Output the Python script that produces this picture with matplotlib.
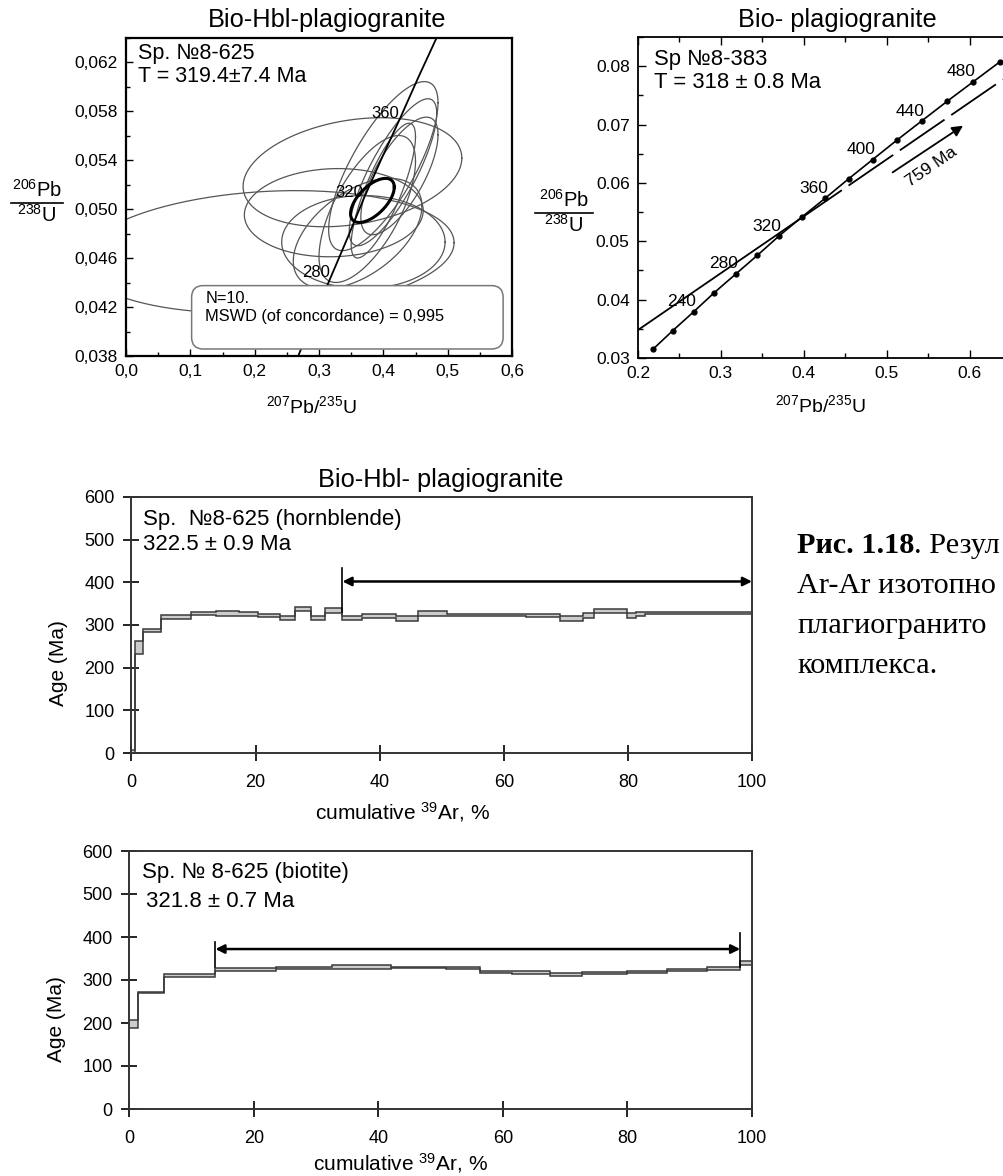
import numpy as np
import matplotlib
matplotlib.use("Agg")
import matplotlib.pyplot as plt
from matplotlib.patches import FancyBboxPatch
from matplotlib.lines import Line2D
from matplotlib.ticker import MultipleLocator, FixedLocator, FixedFormatter

plt.rcParams['font.family'] = ['Liberation Sans', 'DejaVu Sans']
plt.rcParams['mathtext.fontset'] = 'custom'
plt.rcParams['mathtext.rm'] = 'Liberation Sans'
plt.rcParams['mathtext.it'] = 'Liberation Sans:italic'
plt.rcParams['mathtext.bf'] = 'Liberation Sans:bold'

#==============================================================================
# U-Pb, Sp. N8-625: error ellipses (centre x, centre y, half-width x,
# half-width y, error correlation)
ell_cx = [0.400, 0.415, 0.425, 0.352, 0.323, 0.369, 0.220, 0.400, 0.375, 0.360]
ell_cy = [0.0535, 0.0530, 0.0527, 0.0530, 0.0497, 0.0473, 0.0465, 0.0515, 0.0500, 0.0480]
ell_sx = [0.085, 0.068, 0.060, 0.170, 0.139, 0.127, 0.290, 0.050, 0.075, 0.100]
ell_sy = [0.0069, 0.0060, 0.0048, 0.00445, 0.0036, 0.0038, 0.0050, 0.0055, 0.0060, 0.0045]
ell_rho = [0.75, 0.80, 0.70, 0.26, 0.05, 0.00, 0.15, 0.80, 0.65, 0.50]
# concordia age ellipse
age_ell = [0.383, 0.0507, 0.034, 0.0018, 0.60]

# concordia points (Ma, 207/235, 206/238)
conc_age = [200, 220, 240, 260, 280, 300, 320, 340, 360, 380, 400, 420, 440, 460, 480, 500]
conc_x = [0.218, 0.242, 0.267, 0.292, 0.318, 0.344, 0.370, 0.398, 0.426, 0.454,
          0.483, 0.512, 0.542, 0.573, 0.604, 0.636]
conc_y = [0.0315, 0.0347, 0.0379, 0.0412, 0.0444, 0.0476, 0.0509, 0.0542, 0.0574,
          0.0607, 0.0640, 0.0673, 0.0706, 0.0740, 0.0773, 0.0807]
left_labels = [280, 320, 360]
right_labels = [240, 280, 320, 360, 400, 440, 480]

# discordia, Sp. N8-383 (solid up to the middle point, dashed after it)
disc_x = [0.200, 0.392, 0.640]
disc_y = [0.0348, 0.0535, 0.0777]
arrow_x = [0.507, 0.592]
arrow_y = [0.0618, 0.0698]

xt_left = [0.0, 0.1, 0.2, 0.3, 0.4, 0.5, 0.6]
xt_left_lab = ['0,0', '0,1', '0,2', '0,3', '0,4', '0,5', '0,6']
yt_left = [0.038, 0.042, 0.046, 0.050, 0.054, 0.058, 0.062]
yt_left_lab = ['0,038', '0,042', '0,046', '0,050', '0,054', '0,058', '0,062']

# Ar-Ar, hornblende: step edges (cumulative 39Ar, %), age band low / high
hbl_x = [0, 0.5, 1.9, 4.8, 9.6, 13.6, 17.3, 20.4, 23.9, 26.3, 28.9, 31.2, 34.0, 37.2,
         40.0, 42.7, 46.1, 50.8, 57.4, 63.5, 69.0, 72.7, 74.6, 79.8, 81.3, 82.7, 91.3, 100]
hbl_lo = [0, 232, 283, 315, 323, 322, 322, 318, 312, 332, 312, 328, 312, 316,
          316, 309, 322, 320, 320, 319, 309, 317, 329, 317, 321, 325, 325]
hbl_hi = [8, 262, 291, 323, 330, 332, 330, 326, 322, 343, 322, 340, 322, 326,
          326, 322, 332, 326, 325, 325, 321, 329, 338, 329, 331, 331, 331]
hbl_plateau = [34.0, 100]

# Ar-Ar, biotite
bt_x = [0, 1.3, 5.6, 13.8, 23.5, 32.5, 42.0, 50.9, 56.3, 61.4, 67.5, 72.7, 79.9,
        86.4, 92.8, 98.1, 100]
bt_lo = [188, 269, 306, 322, 326, 325, 327, 326, 317, 313, 310, 314, 317, 320, 324, 335]
bt_hi = [208, 273, 314, 327, 330, 334, 331, 330, 322, 320, 317, 319, 322, 325, 330, 345]
bt_plateau = [13.8, 98.1]

caption = ['Рис. 1.18', '. Резул', 'Ar-Ar изотопно', 'плагиогранито', 'комплекса.']
#==============================================================================

W, H = 1004, 1176


def box(l, t, r, b):
    return [l / W, 1 - b / H, (r - l) / W, (b - t) / H]


def fp(x, y):
    return (x / W, 1 - y / H)


def ellipse(ax, cx, cy, sx, sy, rho, **kw):
    t = np.linspace(0, 2 * np.pi, 300)
    x = cx + sx * np.cos(t)
    y = cy + sy * (rho * np.cos(t) + np.sqrt(1 - rho ** 2) * np.sin(t))
    ax.plot(x, y, **kw)


def frac_label(cx, ybar, half):
    fig.text(*fp(cx, ybar - 2), '$^{206}$Pb', ha='center', va='bottom', fontsize=14.5)
    fig.text(*fp(cx, ybar + 1), '$^{238}$U', ha='center', va='top', fontsize=14.5)
    fig.add_artist(Line2D([(cx - half) / W, (cx + half) / W], [1 - ybar / H] * 2,
                          color='k', lw=1.2))


fig = plt.figure(figsize=(W / 100, H / 100), dpi=100)

#==============================================================================
# left: U-Pb concordia, Bio-Hbl-plagiogranite
ax1 = fig.add_axes(box(126, 37.5, 512, 356))
for i in range(len(ell_cx)):
    ellipse(ax1, ell_cx[i], ell_cy[i], ell_sx[i], ell_sy[i], ell_rho[i],
            color='#555555', lw=0.9, zorder=2)
ellipse(ax1, *age_ell, color='k', lw=2.2, zorder=4)
ax1.plot(conc_x, conc_y, color='k', lw=1.3, zorder=3)
for a in left_labels:
    i = conc_age.index(a)
    ax1.annotate(str(a), (conc_x[i], conc_y[i]), xytext=(-15, 5),
                 textcoords='offset pixels', ha='center', va='center',
                 fontsize=12, zorder=5)
ax1.set_xlim(0, 0.6)
ax1.set_ylim(0.038, 0.064)
ax1.xaxis.set_major_locator(FixedLocator(xt_left))
ax1.xaxis.set_major_formatter(FixedFormatter(xt_left_lab))
ax1.yaxis.set_major_locator(FixedLocator(yt_left))
ax1.yaxis.set_major_formatter(FixedFormatter(yt_left_lab))
ax1.xaxis.set_minor_locator(MultipleLocator(0.05))
ax1.yaxis.set_minor_locator(MultipleLocator(0.002))
ax1.tick_params(which='both', direction='in', labelsize=12.5, width=1)
ax1.tick_params(which='major', length=5, pad=6)
ax1.tick_params(which='minor', length=3)
for s in ax1.spines.values():
    s.set_linewidth(1.6)
mswd = FancyBboxPatch((0.17, 0.022), 0.807, 0.199, transform=ax1.transAxes,
                      boxstyle='round,pad=0,rounding_size=0.03',
                      mutation_aspect=386 / 318.5,
                      fc='white', ec='#777777', lw=1.1, zorder=6)
ax1.add_patch(mswd)
ax1.text(0.205, 0.182, 'N=10.', transform=ax1.transAxes, fontsize=11.8,
         va='center', zorder=7)
ax1.text(0.205, 0.123, 'MSWD (of concordance) = 0,995', transform=ax1.transAxes,
         fontsize=11.8, va='center', zorder=7)
ax1.text(0.031, 0.951, 'Sp. №8-625', transform=ax1.transAxes, fontsize=15.5,
         va='center', zorder=7)
ax1.text(0.031, 0.876, 'T = 319.4±7.4 Ma', transform=ax1.transAxes, fontsize=15.5,
         va='center', zorder=7)
fig.text(*fp(327, 20), 'Bio-Hbl-plagiogranite', ha='center', va='center', fontsize=18.3)
fig.text(*fp(311, 406), '$^{207}$Pb/$^{235}$U', ha='center', va='center', fontsize=14)
frac_label(37, 203, 26)

#==============================================================================
# right: U-Pb concordia, Bio- plagiogranite
ax2 = fig.add_axes(box(638, 37, 1036, 358))
ax2.plot(conc_x, conc_y, color='k', lw=1.2, marker='o', ms=3.5, zorder=3)
ax2.plot(disc_x[:2], disc_y[:2], color='k', lw=1.3, zorder=2)
ax2.plot(disc_x[1:], disc_y[1:], color='k', lw=1.3, dashes=(30, 4.5), zorder=2)
ax2.annotate('', xy=(arrow_x[1], arrow_y[1]), xytext=(arrow_x[0], arrow_y[0]),
             arrowprops=dict(arrowstyle='-|>', color='k', lw=1.3,
                             mutation_scale=16, shrinkA=0, shrinkB=0))
ax2.text(0.554, 0.0628, '759 Ma', rotation=34.5, rotation_mode='anchor',
         ha='center', va='center', fontsize=12.5)
for a in right_labels:
    i = conc_age.index(a)
    ax2.annotate(str(a), (conc_x[i], conc_y[i]), xytext=(-12, 10),
                 textcoords='offset pixels', ha='center', va='center', fontsize=12.5)
ax2.set_xlim(0.2, 0.68)
ax2.set_ylim(0.03, 0.085)
ax2.xaxis.set_major_locator(MultipleLocator(0.1))
ax2.xaxis.set_minor_locator(MultipleLocator(0.05))
ax2.yaxis.set_major_locator(MultipleLocator(0.01))
ax2.yaxis.set_minor_locator(MultipleLocator(0.005))
ax2.xaxis.set_major_formatter(plt.FuncFormatter(lambda v, p: f'{v:.1f}'))
ax2.yaxis.set_major_formatter(plt.FuncFormatter(lambda v, p: f'{v:.2f}'))
ax2.tick_params(which='both', direction='in', top=True, labelsize=12.5, width=1)
ax2.tick_params(which='major', length=6, pad=6)
ax2.tick_params(which='minor', length=3.5)
ax2.spines['right'].set_visible(False)
for s in ax2.spines.values():
    s.set_linewidth(1.3)
ax2.text(0.040, 0.931, 'Sp №8-383', transform=ax2.transAxes, fontsize=15.8, va='center')
ax2.text(0.040, 0.857, 'T = 318 ± 0.8 Ma', transform=ax2.transAxes, fontsize=15.8,
         va='center')
fig.text(*fp(837, 20), 'Bio- plagiogranite', ha='center', va='center', fontsize=18.3)
fig.text(*fp(820, 405), '$^{207}$Pb/$^{235}$U', ha='center', va='center', fontsize=14)
frac_label(564, 213, 29)

#==============================================================================
# Ar-Ar age spectra


def spectrum(ax, edges, lo, hi, plateau, y_arrow, y_top, texts, xlab_y):
    ax.stairs(hi, edges, baseline=lo, fill=True, color='#cccccc', zorder=2)
    ax.stairs(hi, edges, baseline=None, color='#3a3a3a', lw=1.1, zorder=3)
    ax.stairs(lo, edges, baseline=None, color='#3a3a3a', lw=1.1, zorder=3)
    for x0, yt in zip(plateau, y_top):
        if yt is not None:
            ax.plot([x0, x0], [330, yt], color='k', lw=1.2, zorder=4)
    ax.annotate('', xy=(plateau[1], y_arrow), xytext=(plateau[0], y_arrow),
                arrowprops=dict(arrowstyle='<|-|>', color='k', lw=1.8,
                                mutation_scale=13, shrinkA=0, shrinkB=0), zorder=5)
    ax.set_xlim(0, 100)
    ax.set_ylim(0, 600)
    ax.xaxis.set_major_locator(MultipleLocator(20))
    ax.yaxis.set_major_locator(MultipleLocator(100))
    ax.tick_params(direction='inout', length=12, width=1.2, labelsize=13)
    ax.tick_params(axis='x', pad=9)
    ax.tick_params(axis='y', pad=6)
    for s in ax.spines.values():
        s.set_linewidth(1.4)
        s.set_color('#333333')
    for x, y, s in texts:
        ax.text(x, y, s, transform=ax.transAxes, fontsize=16, va='center')
    ax.set_ylabel('Age (Ma)', fontsize=15)
    ax.yaxis.set_label_coords(-0.102, 0.35)
    ax.set_xlabel('cumulative $^{39}$Ar, %', fontsize=15)
    ax.xaxis.set_label_coords(0.436, xlab_y)


ax3 = fig.add_axes(box(131.5, 497, 752, 753))
spectrum(ax3, hbl_x, hbl_lo, hbl_hi, hbl_plateau, 402, [433, None],
         [(0.018, 0.914, 'Sp.  №8-625 (hornblende)'),
          (0.018, 0.816, '322.5 ± 0.9 Ma')], -0.185)
fig.text(*fp(441, 480), 'Bio-Hbl- plagiogranite', ha='center', va='center', fontsize=18.3)

ax4 = fig.add_axes(box(129.5, 851, 752, 1109))
spectrum(ax4, bt_x, bt_lo, bt_hi, bt_plateau, 372, [389, 410],
         [(0.020, 0.915, 'Sp. № 8-625 (biotite)'),
          (0.026, 0.803, '321.8 ± 0.7 Ma')], -0.165)

#==============================================================================
# caption (only the part that is on the page in the source)
cap = dict(family=['Liberation Serif', 'DejaVu Serif'], fontsize=21.8, va='baseline')
bold = fig.text(*fp(797, 553), caption[0], fontweight='bold', **cap)
plt.annotate(caption[1], xy=(1, 0), xycoords=bold, va='bottom', ha='left',
             family=['Liberation Serif', 'DejaVu Serif'], fontsize=21.8,
             annotation_clip=False)
fig.text(*fp(797, 593), caption[2], **cap)
fig.text(*fp(797, 633), caption[3], **cap)
fig.text(*fp(797, 673), caption[4], **cap)

fig.savefig('out.png', dpi=100)
